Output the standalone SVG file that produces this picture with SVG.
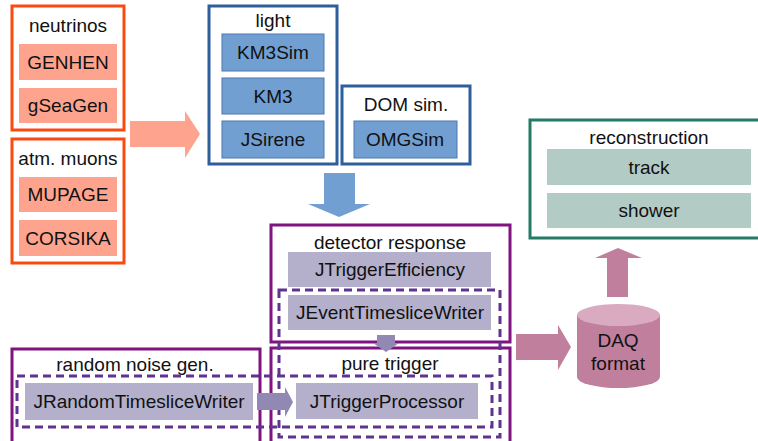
<svg xmlns="http://www.w3.org/2000/svg" width="758" height="441" viewBox="0 0 758 441">
<style>
text{font-family:"Liberation Sans",Arial,sans-serif;font-size:19px;fill:#111;text-anchor:middle}
.org{fill:#fff;stroke:#fb4a10;stroke-width:3}
.sal{fill:#fea48e}
.blu{fill:#fff;stroke:#2f5e9c;stroke-width:3}
.bb{fill:#729fd2;stroke:#4a78b2;stroke-width:1}
.pur{fill:#fff;stroke:#7f137f;stroke-width:3}
.lav{fill:#b4b0cc}
.dash{fill:none;stroke:#5f3390;stroke-width:3;stroke-dasharray:8 5}
.teal{fill:#fff;stroke:#257a66;stroke-width:3}
.tf{fill:#b3cbc5}
</style>
<g id="neutrinos">
<rect class="org" x="12" y="6" width="112" height="124"/>
<text x="68" y="32">neutrinos</text>
<rect class="sal" x="19" y="44" width="98" height="36"/>
<text x="68" y="69">GENHEN</text>
<rect class="sal" x="19" y="88" width="98" height="35"/>
<text x="68" y="112">gSeaGen</text>
</g>
<g id="atm-muons">
<rect class="org" x="12" y="139" width="112" height="124"/>
<text x="68" y="165">atm. muons</text>
<rect class="sal" x="19" y="177" width="98" height="35"/>
<text x="68" y="201">MUPAGE</text>
<rect class="sal" x="19" y="220" width="98" height="36"/>
<text x="68" y="245">CORSIKA</text>
</g>
<g id="light">
<rect class="blu" x="209" y="6" width="128" height="158"/>
<text x="273" y="27">light</text>
<rect class="bb" x="222" y="34" width="102" height="37"/>
<text x="273" y="59">KM3Sim</text>
<rect class="bb" x="222" y="78" width="102" height="36"/>
<text x="273" y="103">KM3</text>
<rect class="bb" x="222" y="121" width="102" height="37"/>
<text x="273" y="146">JSirene</text>
</g>
<g id="dom-sim">
<rect class="blu" x="342" y="86" width="128" height="78"/>
<text x="406" y="111">DOM sim.</text>
<rect class="bb" x="354" y="121" width="103" height="37"/>
<text x="405" y="146">OMGSim</text>
</g>
<g id="detector-response">
<rect class="pur" x="271" y="225" width="239" height="117"/>
<text x="390" y="249">detector response</text>
<rect class="lav" x="288" y="252" width="203" height="35"/>
<text x="390" y="276">JTriggerEfficiency</text>
<rect class="lav" x="288" y="295" width="203" height="35"/>
<text x="390" y="319">JEventTimesliceWriter</text>
</g>
<g id="pure-trigger">
<rect class="pur" x="271" y="348" width="239" height="100"/>
<text x="390" y="370">pure trigger</text>
<rect class="lav" x="296" y="383" width="182" height="36"/>
<text x="387" y="408">JTriggerProcessor</text>
</g>
<g id="random-noise">
<rect class="pur" x="12" y="349" width="248" height="100"/>
<text x="135" y="371">random noise gen.</text>
<rect class="lav" x="25" y="383" width="228" height="37"/>
<text x="139" y="408">JRandomTimesliceWriter</text>
</g>
<g id="reconstruction">
<rect class="teal" x="530" y="120" width="240" height="118"/>
<text x="649" y="144">reconstruction</text>
<rect class="tf" x="547" y="149" width="204" height="36"/>
<text x="649" y="174">track</text>
<rect class="tf" x="547" y="193" width="204" height="35"/>
<text x="649" y="217">shower</text>
</g>
<g id="daq-format">
<path d="M577 315 V377 A41.5 11 0 0 0 660 377 V315 Z" fill="#c17f9e"/>
<ellipse cx="618.5" cy="315" rx="41.5" ry="11" fill="#daaac1"/>
<text x="618" y="347">DAQ</text>
<text x="618" y="370">format</text>
</g>
<g id="dashed-groups">
<rect class="dash" x="279" y="290" width="221" height="147"/>
<rect class="dash" x="17" y="376" width="475" height="51"/>
</g>
<g id="connectors">
<polygon points="130,121 185,121 185,111 200,134 185,158 185,147 130,147" fill="#fea48e"/>
<polygon points="324,173 355,173 355,204 370,204 339,217 308,204 324,204" fill="#729fd2"/>
<polygon points="377,335 395,335 395,343 399,343 386,352 373,343 377,343" fill="#9189b4"/>
<polygon points="257,393 285,393 285,387 293,402 285,417 285,410 257,410" fill="#9189b4"/>
<polygon points="516,334 558,334 558,325 571,347 558,370 558,360 516,360" fill="#c17f9e"/>
<polygon points="607,297 607,258 595,258 618,248 642,258 628,258 628,297" fill="#c17f9e"/>
</g>
</svg>
